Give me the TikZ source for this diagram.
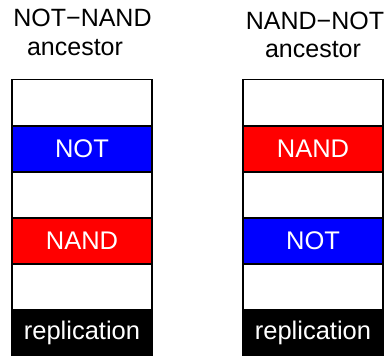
\documentclass[tikz,border=0pt]{standalone}
\usepackage{fontspec}
\setmainfont{Liberation Sans}

\begin{document}
\begin{tikzpicture}
  [x=1pt,y=-1pt,
   seg/.style={rectangle,draw=black,line width=1.5pt,fill=white,minimum width=140pt,minimum height=46pt,inner sep=0pt,font=\fontsize{25.5}{30}\selectfont},
   gate/.style={seg,text=white},
   title/.style={anchor=base,inner sep=0pt,font=\fontsize{25}{30}\selectfont}]
  \useasboundingbox (0,0) rectangle (391,356);

  %%%%%%%%%%%%%%%%%%%%%% LEFT %%%%%%%%%%%%%%%%%%%%%%
   \node[title](t1_1) at (82.5,27)   {NOT−NAND};
   \node[title](t1_2) at (75,55)     {ancestor};

   \node[seg](l_1) at (82,102.5)   {};
   \node[gate,fill=blue](l_2) at (82,149)   {NOT};
   \node[seg](l_3) at (82,195)     {};
   \node[gate,fill=red](l_4) at (82,241)    {NAND};
   \node[seg](l_5) at (82,287)     {};
   \node[gate,fill=black](l_6) at (82,333)  {replication};

  %%%%%%%%%%%%%%%%%%%%%% RIGHT %%%%%%%%%%%%%%%%%%%%%%
   \node[title](t2_1) at (315,29)  {NAND−NOT};
   \node[title](t2_2) at (313,57)  {ancestor};

   \node[seg](r_1) at (313,102.5)  {};
   \node[gate,fill=red](r_2) at (313,149)   {NAND};
   \node[seg](r_3) at (313,195)    {};
   \node[gate,fill=blue](r_4) at (313,241)  {NOT};
   \node[seg](r_5) at (313,287)    {};
   \node[gate,fill=black](r_6) at (313,333) {replication};

\end{tikzpicture}
\end{document}
